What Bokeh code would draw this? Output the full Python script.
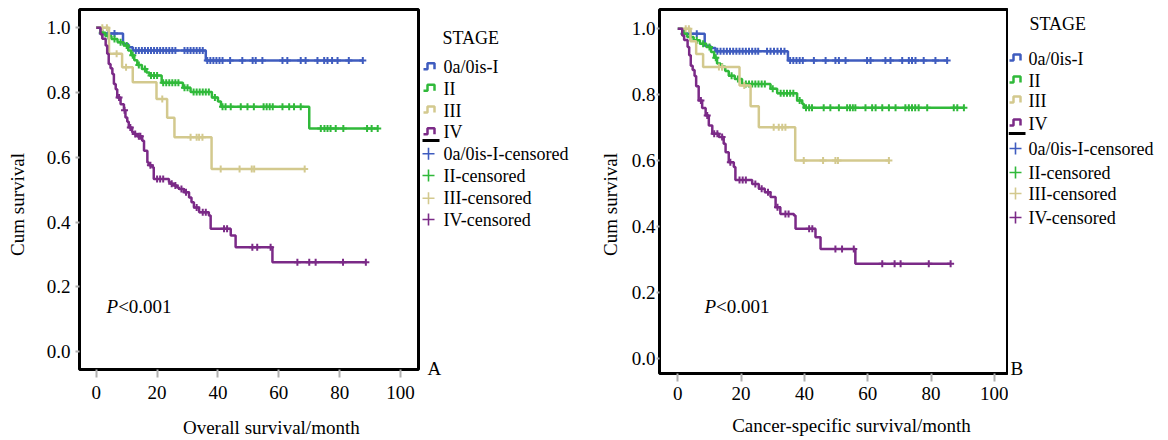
import numpy as np
from bokeh.plotting import figure
from bokeh.models import Range1d, Label, PrintfTickFormatter
from bokeh.layouts import row, column
from bokeh.embed import file_html
from bokeh.resources import INLINE
from bokeh.core.properties import value

FONT = "Liberation Serif"
STAGES = ["0a/0is-I", "II", "III", "IV"]
CENSORED = [s + "-censored" for s in STAGES]
COLORS = ["#3f5cbf", "#30b93a", "#d3c98e", "#7b2a87"]
X_TICKS = [0, 20, 40, 60, 80, 100]
Y_TICKS = [0.0, 0.2, 0.4, 0.6, 0.8, 1.0]
LEGEND_TITLE = "STAGE"
P_TEXT = ["P", "<0.001"]
Y_LABEL = "Cum survival"
X_LABELS = ["Overall survival/month", "Cancer-specific survival/month"]
TAGS = ["A", "B"]

# ---------------- Panel A: overall survival ----------------
A_blue_t = [0, 1.5, 8.8, 10.5, 12.0, 36.0]
A_blue_s = [1.0, 0.982, 0.950, 0.940, 0.930, 0.899]
A_blue_end = 87.6
A_blue_c = [2, 4, 6, 13, 14, 15, 16, 17, 18, 19, 20, 21, 22, 23, 24, 25, 26, 29, 30, 31, 32, 33, 34, 35,
            36.5, 37.5, 38.5, 39.5, 40.5, 41.5, 44, 48, 51.4, 52.4, 54.6, 61.2, 62.8, 67.2, 68.8, 72.7,
            74.9, 76, 77.5, 79.3, 83, 87.6]

A_green_t = [0, 1.5, 3, 5, 7, 9, 10.5, 11.5, 12.5, 13.5, 15, 16.5, 17.5, 21.5, 28.5, 31.0, 38.0, 40.0, 41.0, 70.0]
A_green_s = [1.0, 0.985, 0.975, 0.965, 0.955, 0.945, 0.93, 0.915, 0.90, 0.885, 0.873, 0.862, 0.853, 0.830,
             0.815, 0.802, 0.785, 0.772, 0.756, 0.689]
A_green_end = 92.5
A_green_c = [2, 4, 6, 8, 10, 12, 14, 16, 18, 19, 20, 22, 23, 24, 25, 26, 27, 29, 30, 32, 33, 34, 35, 36, 37,
             39, 41.5, 42.5, 44.2, 47.5, 49.7, 51.8, 55, 56, 57, 58, 61.2, 63.4, 65, 67.2, 73.8, 75, 76, 77,
             78.7, 81.2, 89, 90.5, 92.5]

A_tan_t = [0, 4.2, 8.5, 12.0, 19.8, 23.3, 25.7, 37.9]
A_tan_s = [1.0, 0.92, 0.878, 0.832, 0.78, 0.722, 0.662, 0.564]
A_tan_end = 68.5
A_tan_c = [2, 3.5, 6.7, 9.8, 21.7, 31, 33, 33.8, 34.9, 40.9, 47.1, 51.1, 51.9, 68.5]

A_purple_t = [0, 1.4, 2.0, 3.1, 3.6, 4.1, 4.7, 5.3, 5.8, 6.4, 6.9, 8.0, 9.1, 9.6, 10.2, 10.7, 11.8, 12.4,
              13.5, 15.1, 15.7, 16.8, 17.3, 18.4, 18.9, 23.9, 24.4, 25.5, 26.6, 27.2, 28.8, 30.5, 31.3,
              32.1, 33.8, 37.0, 37.6, 44.2, 45.8, 57.9]
A_purple_s = [1.0, 0.98, 0.966, 0.945, 0.92, 0.888, 0.875, 0.857, 0.826, 0.81, 0.785, 0.764, 0.745, 0.723,
              0.71, 0.692, 0.677, 0.672, 0.665, 0.651, 0.62, 0.584, 0.575, 0.569, 0.533, 0.523, 0.518,
              0.513, 0.507, 0.502, 0.492, 0.476, 0.461, 0.445, 0.430, 0.420, 0.379, 0.358, 0.322, 0.276]
A_purple_end = 88.6
A_purple_c = [7.5, 9.3, 11.2, 12.8, 14, 14.5, 17.8, 20, 21, 22, 24.8, 26, 28, 29.5, 33, 35, 36, 42, 43,
              51.3, 52.9, 57.3, 66.1, 70, 72.1, 81.1, 88.6]

# ---------------- Panel B: cancer-specific survival ----------------
B_blue_t = [0, 1.5, 8.5, 10.3, 11.9, 34.8]
B_blue_s = [1.0, 0.985, 0.949, 0.942, 0.932, 0.904]
B_blue_end = 85.1
B_blue_c = [2, 4, 6, 12.5, 13.5, 14.5, 15.5, 16.5, 17.5, 18.5, 19.5, 20.5, 21.5, 22.5, 23.5, 24.5, 25.4,
            28.2, 29.3, 30.4, 31.5, 32.6, 33.7, 35.5, 36.5, 37.5, 38.5, 39.5, 43, 46.7, 49.8, 50.9, 53,
            59.8, 60.9, 65.6, 67.2, 70.9, 73, 74, 75.1, 77.7, 81.4, 85.1]

B_green_t = [0, 1.5, 3, 5, 7, 9, 10.5, 11.5, 12.4, 13.5, 15, 16.1, 18, 20.3, 29.3, 31.4, 37.7, 39.3, 39.8]
B_green_s = [1.0, 0.985, 0.975, 0.965, 0.955, 0.945, 0.93, 0.912, 0.895, 0.885, 0.872, 0.858, 0.848,
             0.833, 0.818, 0.805, 0.783, 0.773, 0.761]
B_green_end = 90.4
B_green_c = [2, 4, 6, 8, 10, 12, 14, 17, 19, 21.5, 22.5, 23.5, 24.5, 25.5, 26.5, 27.5, 30, 32.5, 33.5,
             34.5, 35.5, 36.5, 38.5, 40.5, 41.5, 42.4, 46.1, 48.2, 50.9, 53.5, 54.4, 55.3, 56.1, 59.3,
             61.4, 62.5, 64.6, 66.7, 68.8, 71.9, 73, 74, 75, 76.1, 78.8, 87.2, 88.3, 90.4]

B_tan_t = [0, 4.0, 5.8, 8.0, 19.5, 23.0, 25.6, 37.1]
B_tan_s = [1.0, 0.962, 0.924, 0.884, 0.828, 0.765, 0.702, 0.601]
B_tan_end = 67.0
B_tan_c = [2.5, 3.5, 13, 14, 21, 30.3, 31.9, 33, 34, 39.8, 45.9, 49.8, 50.6, 66.7]

B_purple_t = [0, 1.4, 2.0, 3.1, 3.6, 4.1, 4.7, 5.3, 5.8, 6.6, 7.7, 8.8, 9.8, 10.9, 13.0, 14.5, 15.1,
              16.1, 17.7, 18.2, 23.5, 25.6, 27.5, 29.3, 30.9, 32.4, 36.7, 37.2, 43.5, 45.1, 56.1]
B_purple_s = [1.0, 0.98, 0.966, 0.945, 0.92, 0.888, 0.875, 0.857, 0.826, 0.783, 0.76, 0.737, 0.707,
              0.682, 0.672, 0.652, 0.626, 0.596, 0.581, 0.542, 0.530, 0.515, 0.505, 0.490, 0.459,
              0.439, 0.434, 0.394, 0.368, 0.333, 0.288]
B_purple_end = 86.2
B_purple_c = [7.3, 9.3, 11.5, 12.5, 14, 16.6, 19.5, 20.5, 21.5, 24.5, 26.5, 28.5, 31.5, 34, 35, 41.5,
              42.5, 49.8, 51.9, 55.6, 64.6, 68.5, 70.4, 79.3, 86.2]

A_CURVES = [(A_blue_t, A_blue_s, A_blue_end, A_blue_c),
            (A_green_t, A_green_s, A_green_end, A_green_c),
            (A_tan_t, A_tan_s, A_tan_end, A_tan_c),
            (A_purple_t, A_purple_s, A_purple_end, A_purple_c)]
B_CURVES = [(B_blue_t, B_blue_s, B_blue_end, B_blue_c),
            (B_green_t, B_green_s, B_green_end, B_green_c),
            (B_tan_t, B_tan_s, B_tan_end, B_tan_c),
            (B_purple_t, B_purple_s, B_purple_end, B_purple_c)]

H = 440


def blank(width, height):
    """A plain drawing area whose data units are pixels (origin bottom-left)."""
    q = figure(width=width, height=height, x_range=Range1d(0, width), y_range=Range1d(0, height),
               output_backend="svg", toolbar_location=None, min_border=0,
               x_axis_type=None, y_axis_type=None)
    q.outline_line_color = None
    q.background_fill_color = "white"
    q.border_fill_color = "white"
    return q


def put_text(q, x, ytop, texts, size="19px", angle=0.0, align="left"):
    n = len(texts)
    q.text(x=[x] * n if np.isscalar(x) else x,
           y=[q.height - v for v in ([ytop] * n if np.isscalar(ytop) else ytop)],
           text=texts, angle=angle, text_font=value(FONT), text_font_size=value(size),
           text_baseline="middle", text_align=align, text_color="black")


def km_panel(curves, width, height, borders, xr, yr, xstandoff, ytick_out, ystandoff, p_xy):
    bl, br, bt, bb = borders
    p = figure(width=width, height=height, x_range=Range1d(*xr), y_range=Range1d(*yr),
               output_backend="svg", toolbar_location=None,
               min_border_left=bl, min_border_right=br, min_border_top=bt, min_border_bottom=bb)
    p.outline_line_color = "black"
    p.outline_line_width = 3
    p.background_fill_color = "white"
    p.border_fill_color = "white"
    p.xgrid.grid_line_color = None
    p.ygrid.grid_line_color = None

    p.xaxis.ticker = X_TICKS
    p.yaxis.ticker = Y_TICKS
    p.yaxis.formatter = PrintfTickFormatter(format="%.1f")
    for ax in (p.xaxis, p.yaxis):
        ax.axis_line_color = None
        ax.minor_tick_line_color = None
        ax.major_tick_line_color = "#b0b0b0"
        ax.major_tick_line_width = 2
        ax.major_tick_in = 0
        ax.major_label_text_font = FONT
        ax.major_label_text_font_size = "19px"
        ax.major_label_text_color = "black"
    p.xaxis.major_tick_out = 8
    p.xaxis.major_label_standoff = xstandoff
    p.yaxis.major_tick_out = ytick_out
    p.yaxis.major_label_standoff = ystandoff

    for (t, s, end, cens), col in zip(curves, COLORS):
        xs = list(t) + [end]
        ys = list(s) + [s[-1]]
        p.step(x=xs, y=ys, mode="after", line_color=col, line_width=2.5)
        ta = np.asarray(t, dtype=float)
        sa = np.asarray(s, dtype=float)
        ca = np.asarray(cens, dtype=float)
        idx = np.searchsorted(ta, ca, side="right") - 1
        p.scatter(x=ca, y=sa[idx], marker="cross", size=7, line_color=col, line_width=2)

    p.add_layout(Label(x=p_xy[0], y=p_xy[1], text=P_TEXT[0], text_font=FONT, text_font_size="19px",
                       text_font_style="italic", text_align="left", text_baseline="middle",
                       text_color="black"))
    p.add_layout(Label(x=p_xy[2], y=p_xy[1], text=P_TEXT[1], text_font=FONT, text_font_size="19px",
                       text_align="left", text_baseline="middle", text_color="black"))
    return p


def draw_legend(q, title_xy, text_x, rows_y, icon_x, bar_y, cens_y, plus_x, tag, tag_xy):
    put_text(q, title_xy[0], title_xy[1], [LEGEND_TITLE], size="18px")
    put_text(q, text_x, list(rows_y) + list(cens_y), STAGES + CENSORED, size="18px")
    xs, ys = [], []
    for y in rows_y:
        yb = H - (y + 2)
        xs.append([icon_x, icon_x + 4, icon_x + 4, icon_x + 11, icon_x + 11])
        ys.append([yb, yb, yb + 6, yb + 6, yb])
    q.multi_line(xs=xs, ys=ys, line_color=COLORS, line_width=2.5)
    q.line(x=[icon_x - 1, icon_x + 16], y=[H - bar_y, H - bar_y], line_color="black", line_width=3)
    q.scatter(x=[plus_x] * 4, y=[H - v for v in cens_y], marker="cross", size=12,
              line_color=COLORS, line_width=1.6)
    put_text(q, tag_xy[0], tag_xy[1], [tag])


# ---- page columns: 0-40 | 40-420 panel A | 420-620 legend A | 620-1008 panel B | 1008-1168 legend B
ylab_a = blank(40, H)
put_text(ylab_a, 17, 204, [Y_LABEL], angle=np.pi / 2, align="center")

# panel A frame: x 79..418, y 9..369
pa = km_panel(A_CURVES, 380, 410, (39, 2, 9, 41), (-5.5, 105.9), (-0.0556, 1.0565),
              8, 4, 5, (3.4, 0.139, 7.2))
xlab_a = blank(380, 30)
put_text(xlab_a, 215, 17, [X_LABELS[0]], align="center")

leg_a = blank(200, H)
draw_legend(leg_a, (22, 37), 23, [66.7, 88.3, 110, 131.7], 3, 140, [153.3, 175, 197.7, 219], 8,
            TAGS[0], (7, 368))
put_text(leg_a, 190, 204, [Y_LABEL], angle=np.pi / 2, align="center")

# panel B frame: x 659..1007, y 9..373
pb = km_panel(B_CURVES, 388, 412, (39, 1, 9, 39), (-5.78, 104.17), (-0.0445, 1.0585),
              5, 3, 1, (8.4, 0.158, 12.1))
xlab_b = blank(388, 28)
put_text(xlab_b, 214, 13, [X_LABELS[1]], align="center")

leg_b = blank(160, H)
draw_legend(leg_b, (21, 23), 20, [58, 80, 100, 123], 1, 133, [148, 172, 193, 217], 7,
            TAGS[1], (2, 368))

layout = row(ylab_a, column(pa, xlab_a), leg_a, column(pb, xlab_b), leg_b)
open("out.html", "w").write(file_html(layout, INLINE))
